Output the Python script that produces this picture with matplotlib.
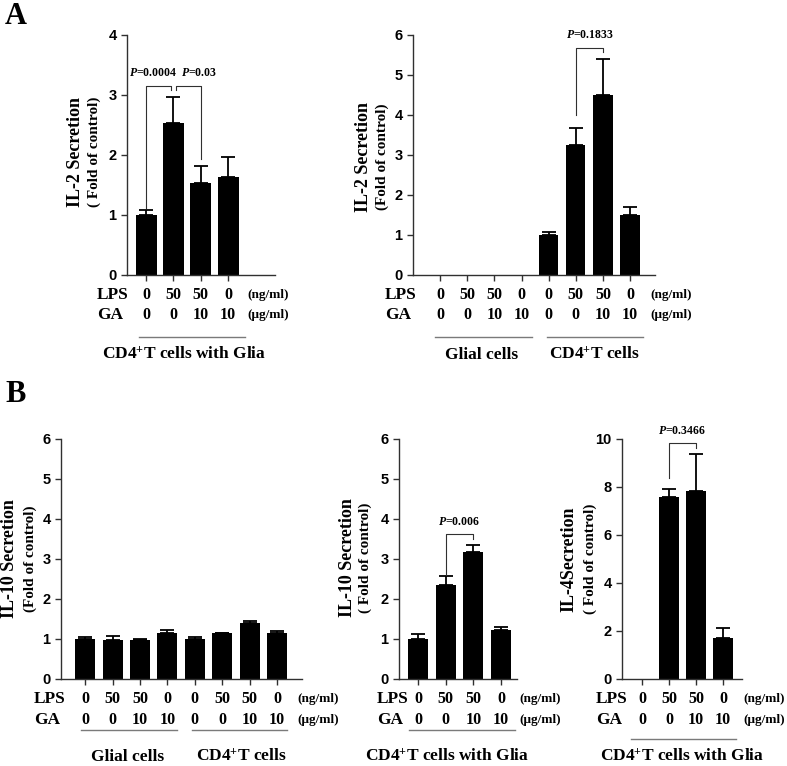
import matplotlib
matplotlib.use('Agg')
import matplotlib.pyplot as plt
from matplotlib.lines import Line2D
import matplotlib.transforms as mtrans

plt.rcParams['font.family'] = 'Liberation Sans'
plt.rcParams['font.weight'] = 'bold'
plt.rcParams['mathtext.fontset'] = 'custom'
plt.rcParams['mathtext.rm'] = 'Liberation Serif:bold'
plt.rcParams['mathtext.bf'] = 'Liberation Serif:bold'
plt.rcParams['mathtext.it'] = 'Liberation Serif:italic:bold'

# treatments
lps = ['0', '50', '50', '0']
ga = ['0', '0', '10', '10']

# A left: IL-2, CD4+T cells with glia
a1_vals = [1.00, 2.54, 1.54, 1.64]
a1_err = [0.08, 0.43, 0.28, 0.33]
# A right: IL-2, glial cells / CD4+T cells
a2_vals = [0, 0, 0, 0, 1.00, 3.24, 4.50, 1.49]
a2_err = [0, 0, 0, 0, 0.07, 0.44, 0.91, 0.22]
# B left: IL-10, glial cells / CD4+T cells
b1_vals = [0.99, 0.98, 0.98, 1.14, 1.00, 1.15, 1.40, 1.14]
b1_err = [0.05, 0.09, 0.01, 0.08, 0.05, 0.01, 0.06, 0.06]
# B middle: IL-10, CD4+T cells with glia
b2_vals = [1.00, 2.35, 3.18, 1.23]
b2_err = [0.12, 0.23, 0.16, 0.07]
# B right: IL-4, CD4+T cells with glia
b3_vals = [0, 7.57, 7.85, 1.72]
b3_err = [0, 0.36, 1.54, 0.42]

W, H = 787, 766
fig = plt.figure(figsize=(W / 100, H / 100), dpi=100)

SERIF = 'Liberation Serif'
INK = '#303030'


def fy(py):
    return 1 - py / H


def fx(px):
    return px / W


def make_ax(x0, ytop, x1, ybot):
    return fig.add_axes([fx(x0), fy(ybot), fx(x1 - x0), (ybot - ytop) / H])


def draw(ax, vals, errs, xlim, ymax, ystep, width):
    n = len(vals)
    xs = list(range(n))
    ax.bar(xs, vals, width=width, color='black', zorder=2)
    ex = [x for x, e in zip(xs, errs) if e > 0]
    ev = [v for v, e in zip(vals, errs) if e > 0]
    ee = [e for e in errs if e > 0]
    ax.errorbar(ex, ev, yerr=[[0] * len(ee), ee], fmt='none', ecolor='black',
                elinewidth=1.3, capsize=5, capthick=1.3, zorder=1)
    ax.set_xlim(*xlim)
    ax.set_ylim(0, ymax)
    ax.set_yticks(range(0, ymax + 1, ystep))
    ax.set_xticks(xs)
    ax.set_xticklabels([])
    for s in ['top', 'right']:
        ax.spines[s].set_visible(False)
    for s in ['left', 'bottom']:
        ax.spines[s].set_color(INK)
        ax.spines[s].set_linewidth(1.0)
    ax.tick_params(axis='both', colors=INK, length=4, width=1.0, labelsize=10.5,
                   labelcolor='black')
    ax.patch.set_alpha(0)


def treat_rows(ax, n, label_x, unit_x, y_lps, y_ga):
    tr = mtrans.blended_transform_factory(ax.transData, fig.transFigure)
    for i in range(n):
        ax.text(i, fy(y_lps), lps[i % 4], transform=tr, ha='center', va='center',
                family=SERIF, fontsize=11.5, fontweight='bold')
        ax.text(i, fy(y_ga), ga[i % 4], transform=tr, ha='center', va='center',
                family=SERIF, fontsize=11.5, fontweight='bold')
    fig.text(fx(label_x), fy(y_lps), 'LPS', ha='left', va='center',
             family=SERIF, fontsize=12.5, fontweight='bold')
    fig.text(fx(label_x), fy(y_ga), 'GA', ha='left', va='center',
             family=SERIF, fontsize=12.5, fontweight='bold')
    fig.text(fx(unit_x), fy(y_lps), '(ng/ml)', ha='left', va='center',
             family=SERIF, fontsize=9.5, fontweight='bold')
    fig.text(fx(unit_x), fy(y_ga), '(\u03bcg/ml)', ha='left', va='center',
             family=SERIF, fontsize=9.5, fontweight='bold')


def group(x0, x1, yline, xtext, ytext, text):
    fig.add_artist(Line2D([fx(x0), fx(x1)], [fy(yline), fy(yline)],
                          color='#7a7a7a', lw=1.0))
    fig.text(fx(xtext), fy(ytext), text, ha='center', va='center',
             fontsize=12.5, fontweight='bold', family=SERIF)


def ylab(x1, x2, yc, l1, l2):
    fig.text(fx(x1), fy(yc), l1, rotation=90, ha='center', va='center',
             family=SERIF, fontsize=13, fontweight='bold')
    fig.text(fx(x2), fy(yc), l2, rotation=90, ha='center', va='center',
             family=SERIF, fontsize=11, fontweight='bold')


def bracket(ax, x0, x1, yl, top, yr, text, tx, ty):
    ax.plot([x0, x0, x1, x1], [yl, top, top, yr], color=INK, lw=0.8,
            clip_on=False)
    ax.text(tx, ty, text, ha='center', va='center', fontsize=8.5,
            family=SERIF, fontweight='bold', clip_on=False)


CD4 = 'CD4$^{+}$T cells'

# ---- A left
ax = make_ax(127, 35, 275, 275)
draw(ax, a1_vals, a1_err, (-0.70, 4.72), 4, 1, 0.77)
bracket(ax, 0, 0.9, 1.11, 3.15, 3.08, '$P$=0.0004', 0.26, 3.37)
bracket(ax, 1.09, 2, 3.08, 3.15, 1.94, '$P$=0.03', 1.94, 3.37)
treat_rows(ax, 4, 97, 247, 295, 315)
group(139, 245, 337, 184, 355, CD4 + ' with Glia')
ylab(76, 94, 152, 'IL-2 Secretion', '( Fold of control)')

# ---- A right
ax = make_ax(413, 35, 655, 275)
draw(ax, a2_vals, a2_err, (-1.0, 7.92), 6, 1, 0.71)
bracket(ax, 5, 6, 4.0, 5.68, 5.58, '$P$=0.1833', 5.53, 6.0)
treat_rows(ax, 8, 385, 650, 295, 315)
group(435, 532, 337, 482, 355, 'Glial cells')
group(547, 643, 337, 594, 355, CD4)
ylab(363, 382, 157, 'IL-2 Secretion', '(Fold of control)')

# ---- B left
ax = make_ax(61, 439, 302, 679)
draw(ax, b1_vals, b1_err, (-0.88, 7.91), 6, 1, 0.73)
treat_rows(ax, 8, 34, 297, 699, 720)
group(81, 177, 730, 128, 757, 'Glial cells')
group(192, 287, 730, 241, 757, CD4)
ylab(10, 30, 559, 'IL-10 Secretion', '(Fold of control)')

# ---- B middle
ax = make_ax(399, 439, 517, 679)
draw(ax, b2_vals, b2_err, (-0.69, 3.58), 6, 1, 0.72)
bracket(ax, 1, 2, 2.61, 3.63, 3.49, '$P$=0.006', 1.48, 3.93)
treat_rows(ax, 4, 377, 519, 699, 720)
group(409, 515, 730, 447, 757, CD4 + ' with Glia')
ylab(347, 365, 558, 'IL-10 Secretion', '( Fold of control)')

# ---- B right
ax = make_ax(622, 439, 742, 679)
draw(ax, b3_vals, b3_err, (-0.74, 3.70), 10, 2, 0.74)
bracket(ax, 1, 2, 8.39, 9.82, 9.61, '$P$=0.3466', 1.48, 10.35)
treat_rows(ax, 4, 596, 743, 699, 720)
group(631, 736, 739, 682, 757, CD4 + ' with Glia')
ylab(569, 590, 559, 'IL-4Secretion', '( Fold of control)')

fig.text(fx(16), fy(16), 'A', ha='center', va='center', family=SERIF,
         fontsize=22, fontweight='bold')
fig.text(fx(16), fy(395), 'B', ha='center', va='center', family=SERIF,
         fontsize=22, fontweight='bold')

fig.savefig('out.png', dpi=100)
